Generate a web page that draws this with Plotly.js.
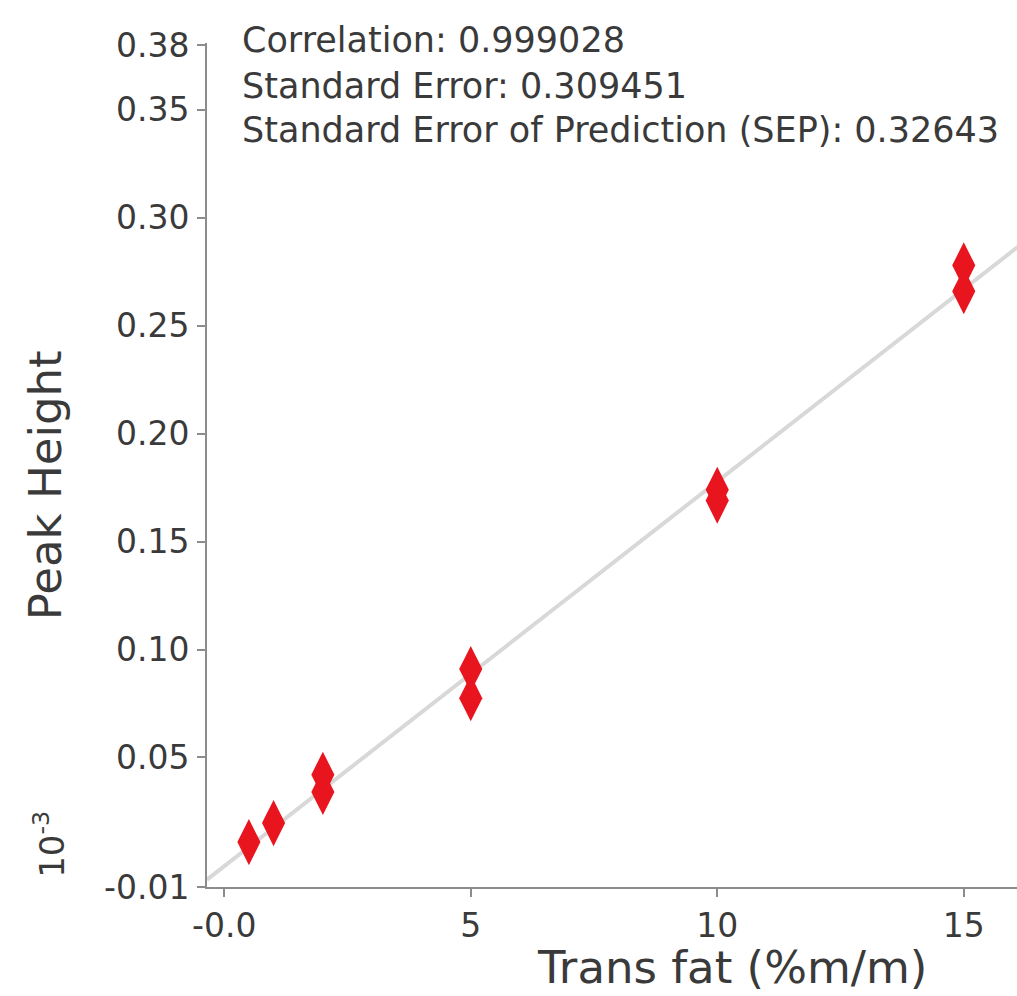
<!DOCTYPE html>
<html>
<head>
<meta charset="utf-8">
<script src="https://cdn.plot.ly/plotly-3.0.1.min.js"></script>
<style>html,body{margin:0;padding:0;background:#fff;}#chart{width:1017px;height:996px;}</style>
</head>
<body>
<div id="chart"></div>
<script>
// Measured samples: trans fat concentration (%m/m) vs peak height
var transFat   = [0.5, 1, 2, 2, 5, 5, 10, 10, 15, 15];
var peakHeight = [0.0108, 0.0196, 0.034, 0.042, 0.0775, 0.091, 0.169, 0.174, 0.266, 0.278];

// Calibration (regression) line end points
var fitX = [-0.35, 16.1];
var fitY = [-0.0066, 0.2866];

// Axis ticks
var xTickVals = [0, 5, 10, 15];
var xTickText = ['-0.0', '5', '10', '15'];
var yTickVals = [-0.01, 0.05, 0.10, 0.15, 0.20, 0.25, 0.30, 0.35, 0.38];
var yTickText = ['-0.01', '0.05', '0.10', '0.15', '0.20', '0.25', '0.30', '0.35', '0.38'];

// Statistics text
var statLines = [
  'Correlation: 0.999028',
  'Standard Error: 0.309451',
  'Standard Error of Prediction (SEP): 0.32643'
];

var FONT = 'DejaVu Sans, Liberation Sans, Arial, sans-serif';
var TXT = '#3a3a3a';
var AX = '#8c8c8c';

var traces = [
  {
    x: fitX, y: fitY, type: 'scatter', mode: 'lines',
    line: {color: '#d8d8d8', width: 4},
    hoverinfo: 'skip', showlegend: false
  },
  {
    x: transFat, y: peakHeight, type: 'scatter', mode: 'markers',
    marker: {symbol: 'diamond-tall', size: 33, color: '#e8141e', line: {width: 0}},
    showlegend: false
  }
];

var statY = [1.0036, 0.949, 0.897];
var annotations = statLines.map(function (t, i) {
  return {
    text: t, xref: 'paper', yref: 'paper', x: 0.0407, y: statY[i],
    xanchor: 'left', yanchor: 'middle', showarrow: false,
    font: {family: FONT, size: 35, color: TXT}
  };
});
annotations.push({
  text: 'Trans fat (%m/m)', xref: 'paper', yref: 'paper', x: 0.648, y: -0.095,
  xanchor: 'center', yanchor: 'middle', showarrow: false,
  font: {family: FONT, size: 45, color: TXT}
});
annotations.push({
  text: 'Peak Height', xref: 'paper', yref: 'paper', x: -0.2, y: 0.476,
  xanchor: 'center', yanchor: 'middle', showarrow: false, textangle: -90,
  font: {family: FONT, size: 45, color: TXT}
});
annotations.push({
  text: '10<sup>-3</sup>', xref: 'paper', yref: 'paper', x: -0.195, y: 0.05,
  xanchor: 'center', yanchor: 'middle', showarrow: false, textangle: -90,
  font: {family: FONT, size: 34, color: TXT}
});

var layout = {
  width: 1017, height: 996,
  margin: {l: 207, r: 0, t: 43, b: 109, pad: 0},
  paper_bgcolor: '#ffffff', plot_bgcolor: '#ffffff',
  showlegend: false,
  xaxis: {
    range: [-0.35, 16.08],
    tickvals: xTickVals, ticktext: xTickText,
    ticks: 'outside', ticklen: 8, tickwidth: 2, tickcolor: AX,
    showline: true, linecolor: AX, linewidth: 2,
    showgrid: false, zeroline: false,
    tickfont: {family: FONT, size: 33, color: TXT}
  },
  yaxis: {
    range: [-0.01, 0.381],
    tickvals: yTickVals, ticktext: yTickText,
    ticks: 'outside', ticklen: 8, tickwidth: 2, tickcolor: AX,
    showline: true, linecolor: AX, linewidth: 2,
    showgrid: false, zeroline: false,
    tickfont: {family: FONT, size: 33, color: TXT},
    ticklabelstandoff: 1
  },
  annotations: annotations
};

Plotly.newPlot('chart', traces, layout, {displayModeBar: false, staticPlot: true});
</script>
</body>
</html>
